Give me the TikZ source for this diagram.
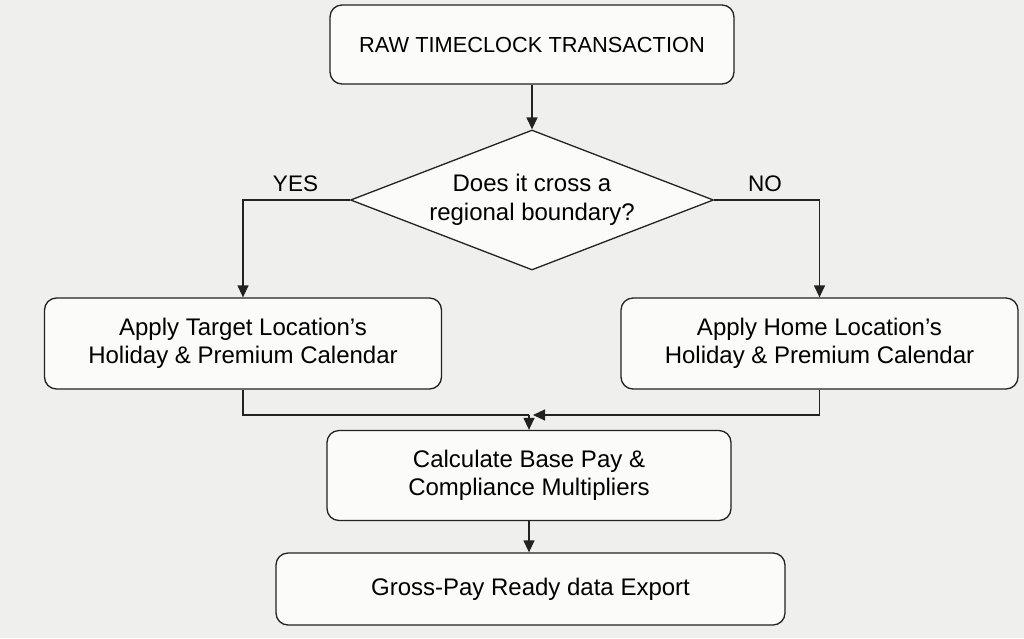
\documentclass[tikz,border=0pt]{standalone}
\usepackage{fontspec}
\setmainfont{Liberation Sans}
\usetikzlibrary{arrows.meta,shapes.geometric}
\definecolor{bgcol}{HTML}{EFEFED}
\definecolor{boxfill}{HTML}{FBFBFA}
\definecolor{ink}{HTML}{222222}
\begin{document}
\begin{tikzpicture}[x=1pt,y=-1pt,
  box/.style={draw=ink, fill=boxfill, rounded corners=12pt, line width=1.3pt, align=center,
    font=\fontsize{24}{28.5}\selectfont, inner sep=0pt, text=black},
  decision/.style={draw=ink, fill=boxfill, diamond, aspect=2.6, line width=1.3pt, align=center,
    font=\fontsize{24}{29}\selectfont, inner sep=0pt, minimum width=363pt, minimum height=140pt},
  lbl/.style={font=\fontsize{22.5}{26}\selectfont, inner sep=0pt},
  conn/.style={draw=ink, line width=1.3pt},
  arr/.style={conn, -{Triangle[length=12pt,width=11pt]}}
]
\useasboundingbox (0,0) rectangle (1024,638);
\fill[bgcol] (0,0) rectangle (1024,638);

\node[box, minimum width=404pt, minimum height=79pt, font=\fontsize{21.8}{26}\selectfont] (raw) at (532,44.5) {RAW TIMECLOCK TRANSACTION};
\node[decision] (dec) at (532,200) {Does it cross a\\regional boundary?};
\node[box, minimum width=397pt, minimum height=91pt] (tgt) at (243,343.5) {Apply Target Location’s\\Holiday \& Premium Calendar};
\node[box, minimum width=397pt, minimum height=91pt] (home) at (819.5,343.5) {Apply Home Location’s\\Holiday \& Premium Calendar};
\node[box, minimum width=404pt, minimum height=90pt] (calc) at (529,475.5) {Calculate Base Pay \&\\Compliance Multipliers};
\node[box, minimum width=509pt, minimum height=72pt] (exp) at (530.5,589) {Gross-Pay Ready data Export};

\node[lbl] (yes) at (295.5,184) {YES};
\node[lbl] (no) at (765,184) {NO};

\coordinate (ml) at (529,415);
\coordinate (mr) at (533,415);

\draw[arr] (raw.south) -- (dec.north);
\draw[arr] (dec.west) -| (tgt.north);
\draw[arr] (dec.east) -| (home.north);
\draw[conn] (tgt.south) |- (ml);
\draw[arr] (ml) -- (calc.north);
\draw[arr] (home.south) |- (mr);
\draw[arr] (calc.south) -- (calc.south |- exp.north);
\end{tikzpicture}
\end{document}
